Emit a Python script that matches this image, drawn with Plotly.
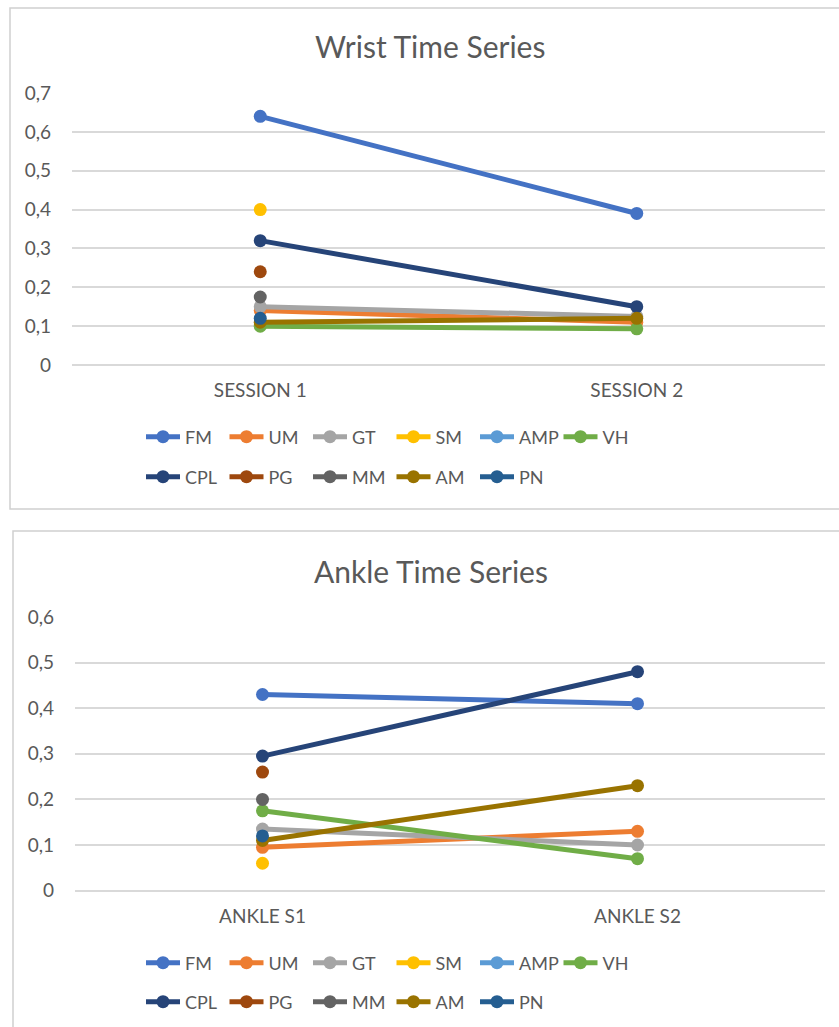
import plotly.graph_objects as go

W, H = 839, 1027

def px(x):
    return x / W

def py(y):
    return 1 - y / H

series = ["FM", "UM", "GT", "SM", "AMP", "VH", "CPL", "PG", "MM", "AM", "PN"]
colors = ["#4472C4", "#ED7D31", "#A5A5A5", "#FFC000", "#5B9BD5", "#70AD47",
          "#264478", "#9E480E", "#636363", "#997300", "#255E91"]

wrist_sessions = ["SESSION 1", "SESSION 2"]
wrist_values = {
    "FM": [0.64, 0.39],
    "UM": [0.14, 0.11],
    "GT": [0.15, 0.125],
    "SM": [0.40, None],
    "AMP": [None, None],
    "VH": [0.10, 0.093],
    "CPL": [0.32, 0.15],
    "PG": [0.24, None],
    "MM": [0.175, None],
    "AM": [0.11, 0.12],
    "PN": [0.12, None],
}

ankle_sessions = ["ANKLE S1", "ANKLE S2"]
ankle_values = {
    "FM": [0.43, 0.41],
    "UM": [0.095, 0.13],
    "GT": [0.135, 0.10],
    "SM": [0.06, None],
    "AMP": [None, None],
    "VH": [0.175, 0.07],
    "CPL": [0.295, 0.48],
    "PG": [0.26, None],
    "MM": [0.20, None],
    "AM": [0.11, 0.23],
    "PN": [0.12, None],
}

wrist_ticks = [0, 0.1, 0.2, 0.3, 0.4, 0.5, 0.6, 0.7]
ankle_ticks = [0, 0.1, 0.2, 0.3, 0.4, 0.5, 0.6]

FONT = "Lato"
TXT = "#595959"
GRID = "#D9D9D9"

fig = go.Figure()

row1 = series[:6]
for name, col in zip(series, colors):
    fig.add_trace(go.Scatter(
        x=wrist_sessions, y=wrist_values[name], name=name,
        mode="lines+markers", xaxis="x", yaxis="y",
        line=dict(color=col, width=5),
        marker=dict(color=col, size=13),
        legend="legend" if name in row1 else "legend2",
        hoverinfo="skip",
    ))
for name, col in zip(series, colors):
    fig.add_trace(go.Scatter(
        x=ankle_sessions, y=ankle_values[name], name=name,
        mode="lines+markers", xaxis="x2", yaxis="y2",
        line=dict(color=col, width=5),
        marker=dict(color=col, size=13),
        legend="legend3" if name in row1 else "legend4",
        hoverinfo="skip",
    ))

def yaxis_cfg(ticks, top, bottom, anchor):
    return dict(
        domain=[py(bottom), py(top)], range=[0, ticks[-1]], anchor=anchor,
        tickvals=ticks, ticktext=[f"{t:g}".replace(".", ",") for t in ticks],
        showgrid=True, gridcolor=GRID, gridwidth=1.5,
        zeroline=True, zerolinecolor=GRID, zerolinewidth=1.5,
        showline=False, ticks="", ticklabelstandoff=20, automargin=False,
        tickfont=dict(family=FONT, size=19, color=TXT), fixedrange=True,
    )

def xaxis_cfg(left, right, anchor):
    return dict(
        domain=[px(left), px(right)], type="category", range=[-0.5, 1.5],
        showgrid=False, zeroline=False, showline=False, ticks="",
        ticklabelstandoff=12, anchor=anchor, automargin=False,
        tickfont=dict(family=FONT, size=19, color=TXT), fixedrange=True,
    )

def legend_cfg(x, y):
    return dict(
        orientation="h", xref="container", yref="container",
        x=px(x), xanchor="left", y=py(y), yanchor="middle",
        entrywidth=34.5, entrywidthmode="pixels", itemwidth=34,
        font=dict(family=FONT, size=18, color=TXT),
        bgcolor="rgba(0,0,0,0)", borderwidth=0, itemclick=False,
        itemdoubleclick=False,
    )

fig.update_layout(
    width=W, height=H, margin=dict(l=0, r=0, t=0, b=0, autoexpand=False),
    paper_bgcolor="white", plot_bgcolor="white",
    showlegend=True,
    xaxis=xaxis_cfg(72, 825, "y"),
    yaxis=yaxis_cfg(wrist_ticks, 93, 365, "x"),
    xaxis2=xaxis_cfg(75, 825, "y2"),
    yaxis2=yaxis_cfg(ankle_ticks, 617, 890.6, "x2"),
    legend=legend_cfg(141, 437),
    legend2=legend_cfg(141, 477),
    legend3=legend_cfg(141, 963),
    legend4=legend_cfg(141, 1002),
    shapes=[
        dict(type="rect", xref="paper", yref="paper",
             x0=px(10), x1=px(845), y0=py(509), y1=py(8),
             line=dict(color="#D0D0D0", width=1.5), fillcolor="rgba(0,0,0,0)", layer="below"),
        dict(type="rect", xref="paper", yref="paper",
             x0=px(13), x1=px(845), y0=py(1040), y1=py(531),
             line=dict(color="#D0D0D0", width=1.5), fillcolor="rgba(0,0,0,0)", layer="below"),
    ],
    annotations=[
        dict(text="Wrist Time Series", x=px(430), y=py(46), xref="paper", yref="paper",
             showarrow=False, xanchor="center", yanchor="middle",
             font=dict(family=FONT, size=30, color=TXT)),
        dict(text="Ankle Time Series", x=px(431), y=py(571), xref="paper", yref="paper",
             showarrow=False, xanchor="center", yanchor="middle",
             font=dict(family=FONT, size=30, color=TXT)),
    ],
)

fig.write_html("out.html")
